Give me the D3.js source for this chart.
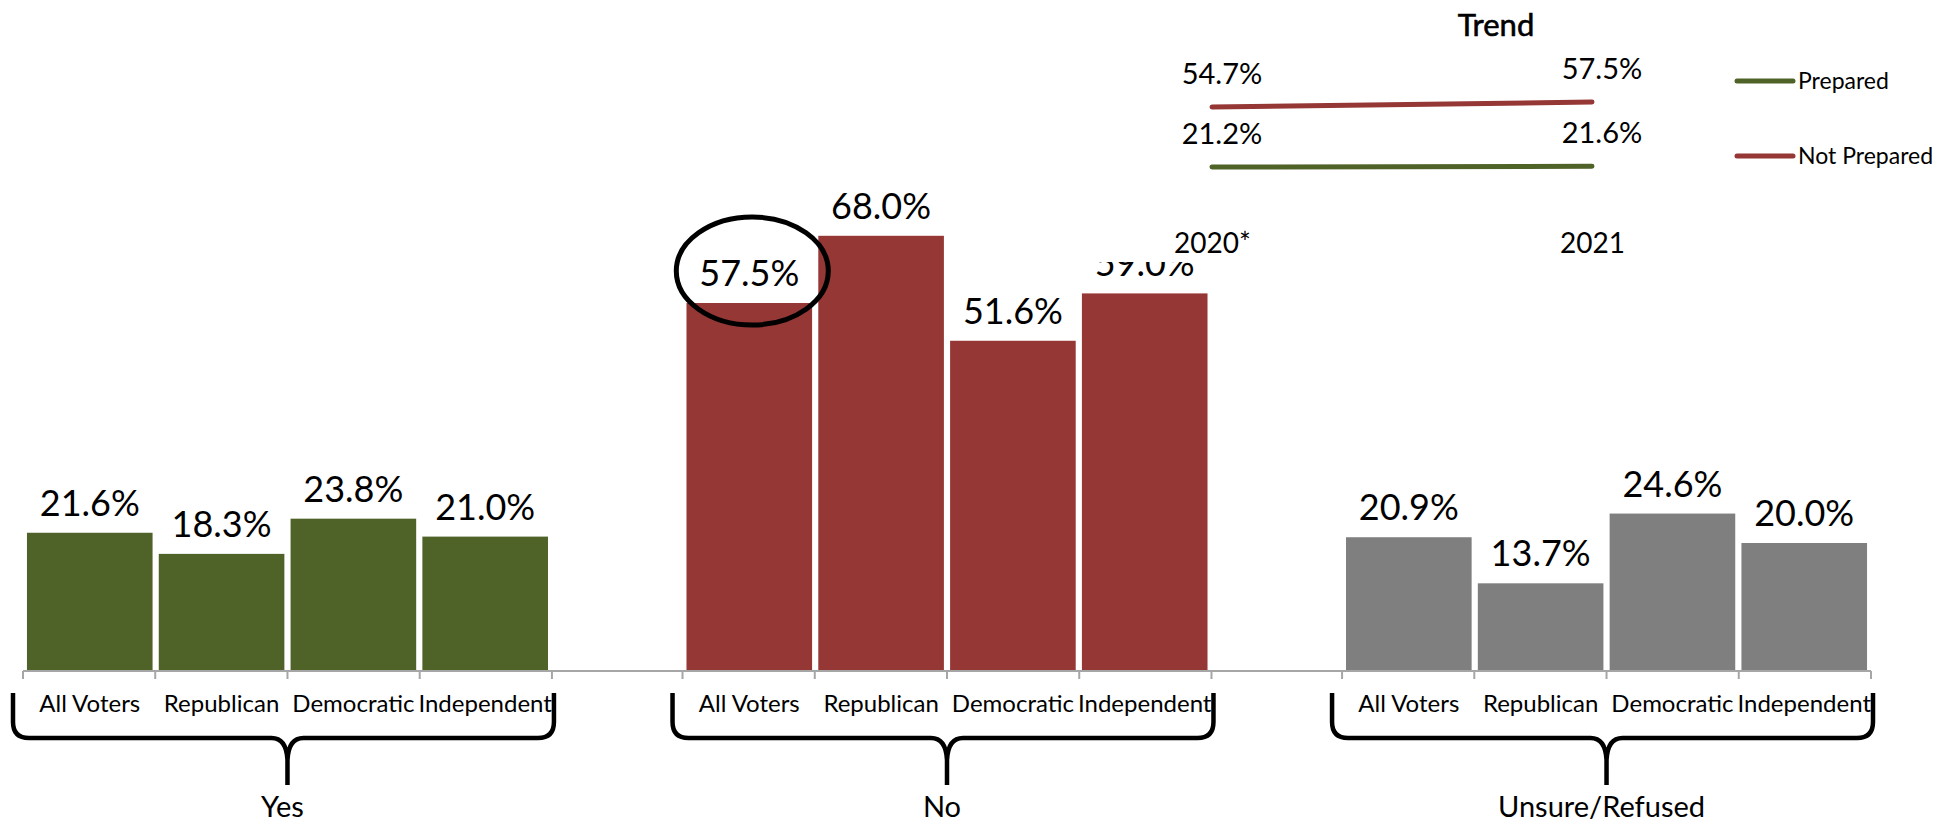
<!DOCTYPE html>
<html>
<head>
<meta charset="utf-8">
<script src="https://cdn.jsdelivr.net/npm/d3@7"></script>
<style>
  html, body { margin: 0; padding: 0; background: #ffffff; }
  svg { display: block; font-family: Lato, "Open Sans", sans-serif; }
</style>
</head>
<body>
<svg id="chart" width="1957" height="822"></svg>
<script>
// ---------------- data ----------------
const groups = ["Yes", "No", "Unsure/Refused"];
const categories = ["All Voters", "Republican", "Democratic", "Independent"];
const yesValues = [21.6, 18.3, 23.8, 21.0];
const noValues = [57.5, 68.0, 51.6, 59.0];
const unsureValues = [20.9, 13.7, 24.6, 20.0];
const groupColors = ["#4F6228", "#953735", "#7F7F7F"];

const trendYears = ["2020*", "2021"];
const trendSeries = ["Prepared", "Not Prepared"];
const preparedTrend = [21.2, 21.6];
const notPreparedTrend = [54.7, 57.5];
const trendColors = ["#4F6228", "#953735"];
const highlighted = { group: "No", category: "All Voters" };

// ---------------- setup ----------------
const W = 1957, H = 822;
const svg = d3.select("#chart");
const fmt = v => d3.format(".1f")(v) + "%";
const groupValues = { "Yes": yesValues, "No": noValues, "Unsure/Refused": unsureValues };

const x0 = d3.scaleBand().domain(groups).range([23, 1871]).paddingInner(0.198).paddingOuter(0);
const x1 = d3.scaleBand().domain(categories).range([0, x0.bandwidth()]).paddingInner(0.047).paddingOuter(0.03);
const y = d3.scaleLinear().domain([0, 100]).range([671, 31]);
const color = d3.scaleOrdinal().domain(groups).range(groupColors);

// ---------------- bars ----------------
const gGroups = svg.append("g").selectAll("g.grp")
  .data(groups).join("g")
  .attr("class", "grp")
  .attr("transform", g => `translate(${x0(g)},0)`);

gGroups.selectAll("rect")
  .data(g => groupValues[g].map((v, i) => ({ g, c: categories[i], v })))
  .join("rect")
  .attr("x", d => x1(d.c))
  .attr("y", d => y(d.v))
  .attr("width", x1.bandwidth())
  .attr("height", d => y(0) - y(d.v))
  .attr("fill", d => color(d.g));

gGroups.selectAll("text.val")
  .data(g => groupValues[g].map((v, i) => ({ g, c: categories[i], v })))
  .join("text")
  .attr("class", "val")
  .attr("x", d => x1(d.c) + x1.bandwidth() / 2)
  .attr("y", d => y(d.v) - 17)
  .attr("text-anchor", "middle")
  .attr("font-size", 36)
  .attr("fill", "#000")
  .text(d => fmt(d.v));

// ---------------- axis ----------------
const axisY = y(0);
svg.append("line")
  .attr("x1", x0.range()[0]).attr("x2", x0.range()[1])
  .attr("y1", axisY).attr("y2", axisY)
  .attr("stroke", "#A6A6A6").attr("stroke-width", 2);

gGroups.selectAll("line.tick")
  .data(d3.range(categories.length + 1))
  .join("line")
  .attr("class", "tick")
  .attr("x1", i => i * x0.bandwidth() / categories.length)
  .attr("x2", i => i * x0.bandwidth() / categories.length)
  .attr("y1", axisY).attr("y2", axisY + 8)
  .attr("stroke", "#A6A6A6").attr("stroke-width", 2);

gGroups.each(function () {
  const ax = d3.select(this).append("g")
    .attr("transform", `translate(0,${axisY})`)
    .call(d3.axisBottom(x1).tickSize(0).tickPadding(0));
  ax.select(".domain").remove();
  ax.selectAll("text")
    .attr("y", 41).attr("dy", null)
    .attr("font-family", "Lato, sans-serif")
    .attr("font-size", 24)
    .attr("fill", "#000");
});

// ---------------- braces ----------------
function bracePath(L, R, c, top, mid) {
  return `M${L},${top} V${mid - 16} Q${L},${mid} ${L + 16},${mid} H${c - 16} Q${c - 1},${mid} ${c},${mid + 22}` +
         ` Q${c + 1},${mid} ${c + 16},${mid} H${R - 16} Q${R},${mid} ${R},${mid - 16} V${top}` +
         ` M${c},${mid + 14} V${mid + 47}`;
}
gGroups.append("path")
  .attr("d", () => {
    const bw = x0.bandwidth();
    return bracePath(-10, bw + 2, bw / 2, 693, 738);
  })
  .attr("fill", "none").attr("stroke", "#000")
  .attr("stroke-width", 4.5).attr("stroke-linejoin", "round").attr("stroke-linecap", "butt");

gGroups.append("text")
  .attr("x", x0.bandwidth() / 2 - 5)
  .attr("y", 817)
  .attr("text-anchor", "middle")
  .attr("font-size", 29)
  .attr("fill", "#000")
  .text(g => g);

// ---------------- highlight ellipse ----------------
const hv = groupValues[highlighted.group][categories.indexOf(highlighted.category)];
svg.append("ellipse")
  .attr("cx", x0(highlighted.group) + x1(highlighted.category) + x1.bandwidth() / 2 + 3)
  .attr("cy", y(hv) - 32)
  .attr("rx", 76).attr("ry", 54)
  .attr("fill", "none").attr("stroke", "#000").attr("stroke-width", 5);

// ---------------- trend inset ----------------
const inset = svg.append("g");
inset.append("rect")
  .attr("x", 1000).attr("y", 0).attr("width", W - 1000).attr("height", 262)
  .attr("fill", "#fff");

inset.append("text")
  .attr("x", 1496).attr("y", 36)
  .attr("text-anchor", "middle")
  .attr("font-size", 31)
  .attr("stroke", "#000").attr("stroke-width", 0.6)
  .text("Trend");

const tx = d3.scalePoint().domain(trendYears).range([1212, 1592]);
const ty = d3.scaleLinear().domain([0, 100]).range([205, 26]);
const trendData = [preparedTrend, notPreparedTrend];
const line = d3.line().x((d, i) => tx(trendYears[i])).y(d => ty(d));

inset.selectAll("path.trend")
  .data(trendData).join("path")
  .attr("class", "trend")
  .attr("d", d => line(d))
  .attr("fill", "none")
  .attr("stroke", (d, i) => trendColors[i])
  .attr("stroke-width", 5).attr("stroke-linecap", "round");

trendData.forEach((s, si) => {
  inset.selectAll(null)
    .data(s).join("text")
    .attr("x", (d, i) => tx(trendYears[i]) + 10)
    .attr("y", d => ty(d) - 23)
    .attr("text-anchor", "middle")
    .attr("font-size", 29)
    .text(d => fmt(d));
});

const txAxis = inset.append("g")
  .attr("transform", "translate(0,253)")
  .call(d3.axisBottom(tx).tickSize(0).tickPadding(0));
txAxis.select(".domain").remove();
txAxis.selectAll("text")
  .attr("y", 0).attr("dy", null)
  .attr("font-family", "Lato, sans-serif")
  .attr("font-size", 28).attr("fill", "#000");

// legend
const leg = inset.selectAll("g.leg")
  .data(trendSeries).join("g")
  .attr("class", "leg")
  .attr("transform", (d, i) => `translate(1737,${81 + i * 75})`);
leg.append("line")
  .attr("x1", 0).attr("x2", 56).attr("y1", 0).attr("y2", 0)
  .attr("stroke", (d, i) => trendColors[i])
  .attr("stroke-width", 5).attr("stroke-linecap", "round");
leg.append("text")
  .attr("x", 61).attr("y", 8)
  .attr("font-size", 23)
  .text(d => d);
</script>
</body>
</html>
